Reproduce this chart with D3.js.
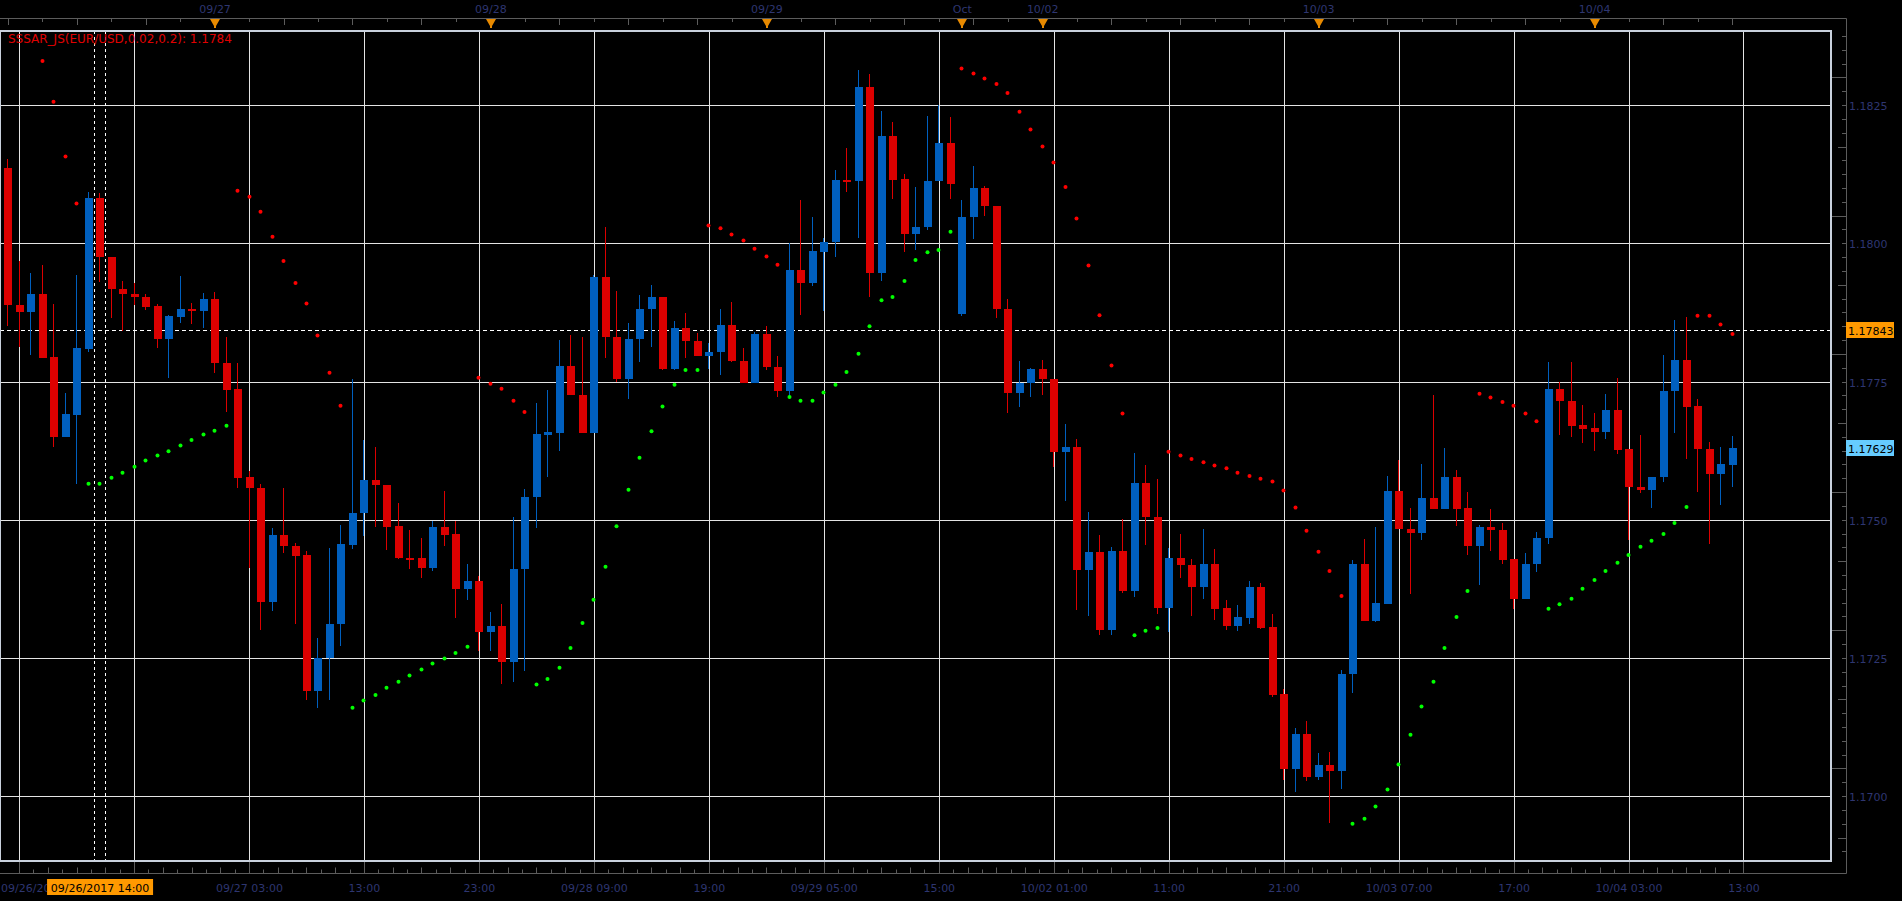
<!DOCTYPE html>
<html>
<head>
<meta charset="utf-8">
<style>
  html, body { margin: 0; padding: 0; background: #000; overflow: hidden; }
  svg { display: block; font-family: "DejaVu Sans", sans-serif; }
</style>
<script src="https://cdn.jsdelivr.net/npm/d3@7/dist/d3.min.js"></script>
</head>
<body>
<svg id="chart" width="1902" height="901"></svg>
<script>
// EUR/USD hourly bars, 09/26 06:00 -> 10/04 12:00 (bar index 0..150)
const opens = [
  1.18136,1.17888,1.17875,1.17909,1.17795,1.17649,1.17690,1.17809,1.18082,1.17976,
  1.17918,1.17909,1.17902,1.17886,1.17827,1.17867,1.17881,1.17878,1.17899,1.17784,
  1.17737,1.17577,1.17558,1.17351,1.17472,1.17452,1.17437,1.17191,1.17250,1.17312,
  1.17454,1.17512,1.17572,1.17563,1.17489,1.17431,1.17430,1.17413,1.17487,1.17474,
  1.17374,1.17389,1.17296,1.17307,1.17243,1.17411,1.17541,1.17653,1.17657,1.17778,
  1.17726,1.17657,1.17939,1.17831,1.17755,1.17826,1.17881,1.17903,1.17773,1.17847,
  1.17824,1.17797,1.17803,1.17852,1.17787,1.17748,1.17836,1.17777,1.17732,1.17952,
  1.17929,1.17985,1.18002,1.18115,1.18112,1.18283,1.17947,1.18195,1.18116,1.18017,
  1.18029,1.18112,1.18181,1.17872,1.18047,1.18100,1.18067,1.17882,1.17729,1.17747,
  1.17773,1.17754,1.17623,1.17631,1.17409,1.17441,1.17300,1.17443,1.17371,1.17567,
  1.17504,1.17340,1.17431,1.17418,1.17378,1.17420,1.17340,1.17308,1.17323,1.17378,
  1.17306,1.17185,1.17049,1.17112,1.17034,1.17057,1.17046,1.17220,1.17420,1.17317,
  1.17348,1.17552,1.17484,1.17476,1.17539,1.17520,1.17577,1.17521,1.17453,1.17487,
  1.17482,1.17429,1.17356,1.17420,1.17466,1.17737,1.17715,1.17671,1.17666,1.17659,
  1.17699,1.17627,1.17560,1.17554,1.17577,1.17732,1.17789,1.17706,1.17628,1.17583,
  1.17599
];
const highs = [
  1.18153,1.17968,1.17947,1.17961,1.17890,1.17729,1.17943,1.18093,1.18091,1.17976,
  1.17932,1.17928,1.17909,1.17890,1.17870,1.17941,1.17892,1.17910,1.17912,1.17830,
  1.17783,1.17588,1.17564,1.17485,1.17557,1.17458,1.17444,1.17286,1.17449,1.17491,
  1.17755,1.17645,1.17632,1.17563,1.17530,1.17482,1.17467,1.17498,1.17552,1.17498,
  1.17420,1.17398,1.17333,1.17347,1.17505,1.17556,1.17711,1.17735,1.17825,1.17835,
  1.17830,1.17942,1.18030,1.17914,1.17856,1.17906,1.17925,1.17903,1.17860,1.17874,
  1.17838,1.17820,1.17881,1.17894,1.17810,1.17839,1.17850,1.17796,1.18001,1.18078,
  1.18047,1.18010,1.18133,1.18172,1.18314,1.18307,1.18239,1.18219,1.18125,1.18102,
  1.18230,1.18251,1.18229,1.18079,1.18140,1.18104,1.18067,1.17900,1.17787,1.17775,
  1.17788,1.17754,1.17673,1.17646,1.17514,1.17472,1.17451,1.17501,1.17621,1.17599,
  1.17574,1.17449,1.17474,1.17429,1.17483,1.17447,1.17354,1.17346,1.17389,1.17385,
  1.17329,1.17194,1.17124,1.17136,1.17078,1.17080,1.17228,1.17427,1.17465,1.17487,
  1.17579,1.17608,1.17521,1.17601,1.17725,1.17630,1.17590,1.17550,1.17491,1.17519,
  1.17494,1.17429,1.17440,1.17478,1.17785,1.17750,1.17785,1.17707,1.17693,1.17727,
  1.17757,1.17627,1.17653,1.17578,1.17798,1.17861,1.17867,1.17718,1.17641,1.17631,
  1.17651
];
const lows = [
  1.17850,1.17813,1.17798,1.17793,1.17631,1.17649,1.17565,1.17804,1.17930,1.17864,
  1.17842,1.17889,1.17880,1.17811,1.17756,1.17856,1.17854,1.17847,1.17765,1.17695,
  1.17557,1.17412,1.17301,1.17334,1.17439,1.17311,1.17173,1.17160,1.17173,1.17272,
  1.17447,1.17471,1.17486,1.17445,1.17429,1.17410,1.17395,1.17408,1.17453,1.17322,
  1.17355,1.17262,1.17262,1.17202,1.17206,1.17227,1.17485,1.17578,1.17625,1.17726,
  1.17657,1.17657,1.17793,1.17750,1.17719,1.17786,1.17813,1.17770,1.17770,1.17793,
  1.17797,1.17773,1.17762,1.17785,1.17748,1.17748,1.17770,1.17722,1.17719,1.17870,
  1.17922,1.17878,1.17975,1.18093,1.18010,1.17903,1.17932,1.18081,1.17984,1.17988,
  1.18024,1.18112,1.18081,1.17868,1.18007,1.18050,1.17865,1.17693,1.17703,1.17722,
  1.17725,1.17596,1.17534,1.17337,1.17326,1.17292,1.17292,1.17367,1.17360,1.17454,
  1.17330,1.17296,1.17394,1.17325,1.17356,1.17319,1.17300,1.17298,1.17311,1.17302,
  1.17179,1.17030,1.17008,1.17028,1.17030,1.16951,1.17013,1.17187,1.17317,1.17315,
  1.17348,1.17483,1.17366,1.17463,1.17520,1.17520,1.17488,1.17437,1.17382,1.17444,
  1.17420,1.17339,1.17356,1.17406,1.17456,1.17654,1.17650,1.17638,1.17625,1.17646,
  1.17618,1.17463,1.17549,1.17522,1.17569,1.17656,1.17610,1.17550,1.17456,1.17527,
  1.17559
];
const closes = [
  1.17888,1.17875,1.17909,1.17793,1.17649,1.17691,1.17811,1.18082,1.17976,1.17918,
  1.17908,1.17902,1.17885,1.17827,1.17869,1.17881,1.17878,1.17899,1.17784,1.17735,
  1.17576,1.17558,1.17351,1.17472,1.17452,1.17435,1.17191,1.17250,1.17312,1.17456,
  1.17512,1.17572,1.17562,1.17487,1.17431,1.17430,1.17413,1.17487,1.17473,1.17374,
  1.17389,1.17296,1.17307,1.17243,1.17411,1.17541,1.17655,1.17659,1.17778,1.17726,
  1.17657,1.17939,1.17831,1.17755,1.17827,1.17881,1.17903,1.17773,1.17847,1.17824,
  1.17797,1.17804,1.17852,1.17787,1.17748,1.17836,1.17777,1.17732,1.17952,1.17929,
  1.17986,1.18002,1.18115,1.18112,1.18283,1.17947,1.18194,1.18115,1.18017,1.18030,
  1.18113,1.18181,1.18108,1.18047,1.18100,1.18067,1.17882,1.17729,1.17747,1.17773,
  1.17754,1.17623,1.17631,1.17409,1.17441,1.17300,1.17443,1.17371,1.17567,1.17504,
  1.17340,1.17431,1.17418,1.17378,1.17420,1.17339,1.17308,1.17324,1.17378,1.17304,
  1.17183,1.17049,1.17112,1.17034,1.17056,1.17046,1.17221,1.17420,1.17317,1.17349,
  1.17552,1.17483,1.17476,1.17539,1.17520,1.17577,1.17520,1.17453,1.17487,1.17482,
  1.17427,1.17356,1.17420,1.17467,1.17737,1.17714,1.17670,1.17664,1.17659,1.17699,
  1.17626,1.17560,1.17554,1.17578,1.17733,1.17789,1.17704,1.17628,1.17583,1.17600,
  1.17630
];
// parabolic SAR (0.02, 0.2), null where no dot is shown
const sar = [
  null,null,null,1.18330,1.18256,1.18157,1.18072,1.17565,1.17565,1.17576,
  1.17585,1.17596,1.17607,1.17616,1.17624,1.17634,1.17644,1.17654,1.17661,1.17670,
  1.18095,1.18084,1.18057,1.18012,1.17968,1.17928,1.17891,1.17833,1.17766,1.17706,
  1.17160,1.17173,1.17183,1.17196,1.17207,1.17218,1.17229,1.17240,1.17249,1.17259,
  1.17270,1.17757,1.17746,1.17737,1.17715,1.17695,1.17202,1.17212,1.17232,1.17268,
  1.17313,1.17355,1.17415,1.17488,1.17554,1.17612,1.17660,1.17705,1.17744,1.17771,
  1.17771,1.18032,1.18027,1.18016,1.18005,1.17990,1.17976,1.17961,1.17722,1.17715,
  1.17715,1.17730,1.17744,1.17767,1.17800,1.17850,1.17897,1.17903,1.17932,1.17970,
  1.17984,1.17988,1.18021,1.18316,1.18307,1.18298,1.18288,1.18272,1.18238,1.18206,
  1.18175,1.18146,1.18102,1.18045,1.17960,1.17870,1.17779,1.17692,1.17291,1.17299,
  1.17304,1.17623,1.17616,1.17610,1.17604,1.17598,1.17593,1.17585,1.17579,1.17574,
  1.17569,1.17553,1.17522,1.17480,1.17442,1.17407,1.17362,1.16950,1.16959,1.16981,
  1.17012,1.17057,1.17111,1.17162,1.17207,1.17268,1.17324,1.17371,1.17728,1.17721,
  1.17713,1.17706,1.17692,1.17678,1.17339,1.17347,1.17357,1.17375,1.17391,1.17407,
  1.17422,1.17436,1.17451,1.17462,1.17474,1.17494,1.17523,1.17869,1.17869,1.17853,
  1.17836
];

// bottom time axis (bar index of each label)
const timeTickIdx = [1, 11, 21, 31, 41, 51, 61, 71, 81, 91, 101, 111, 121, 131, 141, 151];
const timeTickLabels = ["09/26/2017 07:00", "17:00", "09/27 03:00", "13:00", "23:00", "09/28 09:00",
  "19:00", "09/29 05:00", "15:00", "10/02 01:00", "11:00", "21:00", "10/03 07:00", "17:00",
  "10/04 03:00", "13:00"];
// top day markers
const dayIdx = [18, 42, 66, 83, 90, 114, 138];
const dayLabels = ["09/27", "09/28", "09/29", "Oct", "10/02", "10/03", "10/04"];
// price axis
const priceTicks = [1.1700, 1.1725, 1.1750, 1.1775, 1.1800, 1.1825];
const priceLabels = ["1.1700", "1.1725", "1.1750", "1.1775", "1.1800", "1.1825"];
// crosshair and last price
const crossIdx = 8;
const crossPrice = 1.17843;
const crossTimeLabel = "09/26/2017 14:00";
const lastPrice = 1.17629;
const legendText = "SSSAR_JS(EUR/USD,0.02,0.2): 1.1784";

const svg = d3.select("#chart");
const W = 1902, H = 901;
const plot = { left: 0, top: 31, right: 1831, bottom: 861 };
const axisX = 1846.5, axisTop = 18.5, axisBottom = 873.5;

const x = d3.scaleLinear().domain([0, 151]).range([8.1, 8.1 + 151 * 11.496]);
const y = d3.scaleLinear().domain([1.1700, 1.1825]).range([796.1, 105.1]);

const axisColor = "#5c5c5c";
const textColor = "#2e3670";
const upColor = "#005fbe", downColor = "#dc0000";

svg.append("rect").attr("width", W).attr("height", H).attr("fill", "#000");

const defs = svg.append("defs");
defs.append("clipPath").attr("id", "plotClip").append("rect")
  .attr("x", plot.left).attr("y", plot.top)
  .attr("width", plot.right - plot.left).attr("height", plot.bottom - plot.top);

// grid
const grid = svg.append("g").attr("clip-path", "url(#plotClip)");
grid.selectAll("line.h").data(priceTicks).join("line")
  .attr("x1", 0).attr("x2", plot.right)
  .attr("y1", d => Math.round(y(d)) + 0.5).attr("y2", d => Math.round(y(d)) + 0.5)
  .attr("stroke", "#e4e4e4").attr("stroke-width", 1);
grid.selectAll("line.v").data(timeTickIdx).join("line")
  .attr("x1", d => Math.floor(x(d)) + 0.5).attr("x2", d => Math.floor(x(d)) + 0.5)
  .attr("y1", plot.top).attr("y2", plot.bottom)
  .attr("stroke", "#e4e4e4").attr("stroke-width", 1);

// crosshair
const crossG = svg.append("g").attr("clip-path", "url(#plotClip)")
  .attr("stroke", "#ffffff").attr("stroke-width", 1);
[-5.75, 5.75].forEach(off => {
  const cx = Math.floor(x(crossIdx) + off) + 0.5;
  crossG.append("line").attr("x1", cx).attr("x2", cx)
    .attr("y1", plot.top).attr("y2", plot.bottom).attr("stroke-dasharray", "3,3");
});
crossG.append("line")
  .attr("x1", 0).attr("x2", plot.right)
  .attr("y1", Math.round(y(crossPrice)) + 0.5).attr("y2", Math.round(y(crossPrice)) + 0.5)
  .attr("stroke-dasharray", "4,3");

// candles
const bars = d3.range(opens.length).map(i => ({
  i, o: opens[i], h: highs[i], l: lows[i], c: closes[i]
}));
const candles = svg.append("g").attr("clip-path", "url(#plotClip)")
  .attr("shape-rendering", "crispEdges")
  .selectAll("g").data(bars).join("g")
  .attr("fill", d => d.c >= d.o ? upColor : downColor);
candles.append("rect")
  .attr("x", d => Math.round(x(d.i)) - 1).attr("width", 1)
  .attr("y", d => Math.round(y(d.h)))
  .attr("height", d => Math.max(1, Math.round(y(d.l)) - Math.round(y(d.h))));
candles.append("rect")
  .attr("x", d => Math.round(x(d.i)) - 4).attr("width", 8)
  .attr("y", d => Math.round(y(Math.max(d.o, d.c))))
  .attr("height", d => Math.max(2, Math.round(y(Math.min(d.o, d.c))) - Math.round(y(Math.max(d.o, d.c)))));

// SAR dots
const sarPts = sar.map((s, i) => ({ i, s })).filter(d => d.s !== null);
svg.append("g").attr("clip-path", "url(#plotClip)")
  .selectAll("circle").data(sarPts).join("circle")
  .attr("cx", d => Math.round(x(d.i)) - 0.5)
  .attr("cy", d => y(d.s))
  .attr("r", 2)
  .attr("fill", d => d.s > closes[d.i] ? "#ff0000" : "#00ff00");

// plot frame
const frame = svg.append("g").attr("fill", "none").attr("stroke", "#c9d1dd");
frame.append("line").attr("x1", 0).attr("x2", plot.right + 1).attr("y1", plot.top).attr("y2", plot.top).attr("stroke-width", 2);
frame.append("line").attr("x1", plot.right).attr("x2", plot.right).attr("y1", plot.top).attr("y2", plot.bottom + 1).attr("stroke-width", 2);
frame.append("line").attr("x1", 0).attr("x2", plot.right + 1).attr("y1", plot.bottom).attr("y2", plot.bottom).attr("stroke-width", 2);
frame.append("line").attr("x1", 0.5).attr("x2", 0.5).attr("y1", plot.top).attr("y2", plot.bottom).attr("stroke-width", 1);

// outer axis frame
const ax = svg.append("g").attr("stroke", axisColor).attr("stroke-width", 1);
ax.append("line").attr("x1", 0).attr("x2", axisX).attr("y1", axisTop).attr("y2", axisTop);
ax.append("line").attr("x1", 0).attr("x2", axisX).attr("y1", axisBottom).attr("y2", axisBottom);
ax.append("line").attr("x1", axisX).attr("x2", axisX).attr("y1", axisTop).attr("y2", axisBottom);

// top ticks every 3 bars
const topTicks = d3.range(0, 151, 3);
ax.selectAll("line.tt").data(topTicks).join("line")
  .attr("x1", d => Math.floor(x(d)) + 0.5).attr("x2", d => Math.floor(x(d)) + 0.5)
  .attr("y1", axisTop).attr("y2", d => d % 6 === 0 ? 25 : 22);

// bottom ticks: 8 per 10 bars
const bottomTicks = d3.range(0, 121).map(k => 1 + k * 1.25).filter(v => v <= 151);
ax.selectAll("line.bt").data(bottomTicks).join("line")
  .attr("x1", d => Math.floor(x(d)) + 0.5).attr("x2", d => Math.floor(x(d)) + 0.5)
  .attr("y1", axisBottom)
  .attr("y2", (d, k) => k % 8 === 0 ? plot.bottom + 1 : (k % 2 === 0 ? axisBottom - 6 : axisBottom - 4));

// right ticks every 0.00025
const rightTicks = d3.range(0, 60).map(k => 1.1690 + k * 0.00025).filter(p => y(p) > plot.top + 2 && y(p) < plot.bottom - 2);
ax.selectAll("line.rt").data(rightTicks).join("line")
  .attr("x1", d => {
    const n = Math.round((d - 1.1690) / 0.00025);
    return (n + 4) % 10 === 0 ? plot.right + 1 : ((n + 4) % 5 === 0 ? 1838 : 1842);
  })
  .attr("x2", axisX)
  .attr("y1", d => Math.round(y(d)) + 0.5).attr("y2", d => Math.round(y(d)) + 0.5);

// price labels
svg.append("g").selectAll("text").data(priceTicks).join("text")
  .attr("x", 1849).attr("y", d => Math.round(y(d)) + 4.5)
  .attr("font-size", 11).attr("fill", textColor)
  .text((d, i) => priceLabels[i]);

// time labels (the crosshair time box hides what lies under it)
const tcx = x(crossIdx);
const boxL = tcx - 53, boxR = tcx + 53;
defs.append("clipPath").attr("id", "timeClip").append("rect")
  .attr("x", 0).attr("y", 870).attr("width", boxL).attr("height", 31);
const timeLabels = timeTickIdx.map((d, i) => ({ d, i, label: timeTickLabels[i] }))
  .filter(t => t.i === 0 || x(t.d) - 18 > boxR || x(t.d) + 18 < boxL);
svg.append("g").selectAll("text").data(timeLabels).join("text")
  .attr("x", t => t.i === 0 ? 1 : x(t.d))
  .attr("y", 892)
  .attr("text-anchor", t => t.i === 0 ? "start" : "middle")
  .attr("clip-path", t => t.i === 0 ? "url(#timeClip)" : null)
  .attr("font-size", 11).attr("fill", textColor)
  .text(t => t.label);

// day markers
const marks = svg.append("g");
marks.selectAll("path").data(dayIdx).join("path")
  .attr("d", d => {
    const cx = Math.round(x(d));
    return `M${cx - 5},19 L${cx + 5},19 L${cx + 1},26 L${cx + 1},28 L${cx - 1},28 L${cx - 1},26 Z`;
  })
  .attr("fill", "#e88a00");
marks.selectAll("text").data(dayIdx).join("text")
  .attr("x", d => x(d)).attr("y", 13)
  .attr("text-anchor", "middle")
  .attr("font-size", 11).attr("fill", textColor)
  .text((d, i) => dayLabels[i]);

// legend
svg.append("text").attr("x", 8).attr("y", 43)
  .attr("font-size", 12).attr("fill", "#e00000")
  .text(legendText);

// value boxes on the price axis
function priceBox(p, fill) {
  const yy = Math.round(y(p));
  svg.append("rect").attr("x", 1846).attr("y", yy - 8).attr("width", 48).attr("height", 16).attr("fill", fill);
  svg.append("text").attr("x", 1848).attr("y", yy + 4.5)
    .attr("font-size", 11).attr("fill", "#000").text(p.toFixed(5));
}
priceBox(crossPrice, "#ff9900");
priceBox(lastPrice, "#66ccff");

// crosshair time box
svg.append("rect").attr("x", boxL).attr("y", 879).attr("width", boxR - boxL).attr("height", 16).attr("fill", "#ff9900");
svg.append("text").attr("x", tcx).attr("y", 891.5).attr("text-anchor", "middle")
  .attr("font-size", 11).attr("fill", "#000").text(crossTimeLabel);
</script>
</body>
</html>
